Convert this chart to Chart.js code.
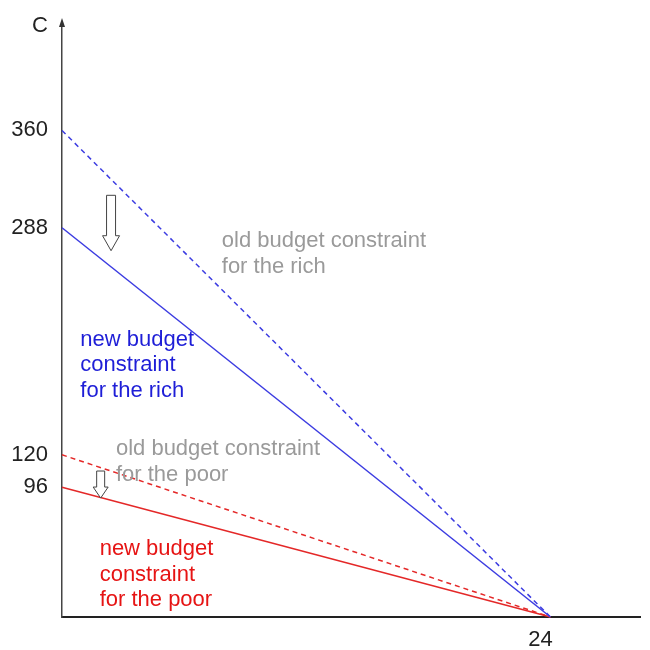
<!DOCTYPE html>
<html>
<head>
<meta charset="utf-8">
<script src="https://cdn.jsdelivr.net/npm/chart.js@4"></script>
<style>
  html, body { margin: 0; padding: 0; background: #fff; }
  #wrap { width: 650px; height: 650px; }
</style>
</head>
<body>
<div id="wrap"><canvas id="chart"></canvas></div>
<script>
// data
const hoursX = [0, 24];
const richOld = [360, 0];
const richNew = [288, 0];
const poorOld = [120, 0];
const poorNew = [96, 0];
const xTicks = [24];
const yTicks = [96, 120, 288, 360];

const BLUE = 'rgb(60,60,225)';
const RED = 'rgb(228,40,40)';
const FONT = '"Liberation Sans", Arial, sans-serif';

function pts(ys) {
  return hoursX.map((x, i) => ({ x: x, y: ys[i] }));
}

// labels and arrows, placed in data units
const notes = [
  { lines: ['old budget constraint', 'for the rich'], x: 7.85, y: 278, color: '#9a9a9a' },
  { lines: ['new budget', 'constraint', 'for the rich'], x: 0.9, y: 205, color: 'rgb(30,30,215)' },
  { lines: ['old budget constraint', 'for the poor'], x: 2.65, y: 124, color: '#9a9a9a' },
  { lines: ['new budget', 'constraint', 'for the poor'], x: 1.85, y: 50, color: 'rgb(230,20,20)' }
];
const shiftArrows = [
  { x: 2.41, from: 312, to: 271, w: 9, hw: 17, hh: 15 },
  { x: 1.9, from: 108, to: 88, w: 8, hw: 15, hh: 11 }
];

const decor = {
  id: 'decor',
  afterDraw(chart) {
    const ctx = chart.ctx;
    const xs = chart.scales.x, ys = chart.scales.y;
    const area = chart.chartArea;
    ctx.save();
    // axis arrow head on y
    ctx.fillStyle = '#333';
    ctx.beginPath();
    ctx.moveTo(area.left, area.top - 7);
    ctx.lineTo(area.left - 3, area.top + 2);
    ctx.lineTo(area.left + 3, area.top + 2);
    ctx.closePath();
    ctx.fill();
    // axis name
    ctx.font = '22px ' + FONT;
    ctx.fillStyle = '#222';
    ctx.textAlign = 'center';
    ctx.textBaseline = 'middle';
    ctx.fillText('C', area.left - 22, area.top + 1);

    ctx.textAlign = 'left';
    notes.forEach(n => {
      ctx.fillStyle = n.color;
      const px = xs.getPixelForValue(n.x);
      const py = ys.getPixelForValue(n.y);
      n.lines.forEach((t, i) => ctx.fillText(t, px, py + i * 25.5));
    });

    // hollow down arrows
    ctx.strokeStyle = '#444';
    ctx.lineWidth = 1;
    ctx.fillStyle = '#fff';
    shiftArrows.forEach(a => {
      const cx = xs.getPixelForValue(a.x);
      const y0 = ys.getPixelForValue(a.from);
      const y1 = ys.getPixelForValue(a.to);
      const hy = y1 - a.hh;
      ctx.beginPath();
      ctx.moveTo(cx - a.w / 2, y0);
      ctx.lineTo(cx + a.w / 2, y0);
      ctx.lineTo(cx + a.w / 2, hy);
      ctx.lineTo(cx + a.hw / 2, hy);
      ctx.lineTo(cx, y1);
      ctx.lineTo(cx - a.hw / 2, hy);
      ctx.lineTo(cx - a.w / 2, hy);
      ctx.closePath();
      ctx.fill();
      ctx.stroke();
    });
    ctx.restore();
  }
};

new Chart(document.getElementById('chart'), {
  type: 'scatter',
  data: {
    datasets: [
      { label: 'old rich', data: pts(richOld), borderColor: BLUE, borderDash: [5, 4] },
      { label: 'new rich', data: pts(richNew), borderColor: BLUE },
      { label: 'old poor', data: pts(poorOld), borderColor: RED, borderDash: [5, 4] },
      { label: 'new poor', data: pts(poorNew), borderColor: RED }
    ].map(d => Object.assign(d, {
      showLine: true, pointRadius: 0, borderWidth: 1.5, fill: false, clip: false
    }))
  },
  options: {
    responsive: true,
    maintainAspectRatio: false,
    animation: false,
    layout: { padding: { left: 0, right: 10, top: 20, bottom: 0 } },
    plugins: { legend: { display: false }, tooltip: { enabled: false } },
    scales: {
      x: {
        type: 'linear', min: 0, max: 28.4,
        afterBuildTicks: s => { s.ticks = xTicks.map(v => ({ value: v })); },
        afterFit: s => { s.height = 33; },
        grid: { display: false, drawTicks: false },
        border: { display: true, color: '#222', width: 2 },
        ticks: { color: '#222', font: { size: 22, family: FONT, lineHeight: 1 }, padding: 12, labelOffset: -10 }
      },
      y: {
        type: 'linear', min: 0, max: 438,
        afterBuildTicks: s => { s.ticks = yTicks.map(v => ({ value: v })); },
        afterFit: s => { s.width = 62; },
        grid: { display: false, drawTicks: false },
        border: { display: true, color: '#444', width: 1.5 },
        ticks: { color: '#222', font: { size: 22, family: FONT, lineHeight: 1 }, padding: 14 }
      }
    }
  },
  plugins: [decor]
});
</script>
</body>
</html>
